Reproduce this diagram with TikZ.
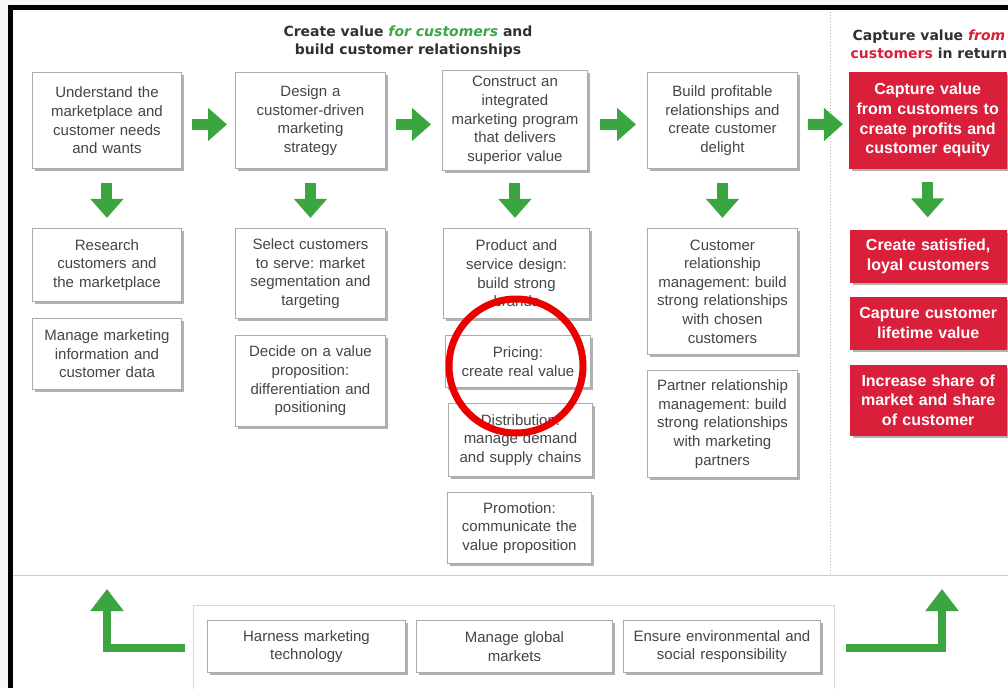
\documentclass[tikz,border=0pt]{standalone}
\usepackage{fontspec}
\setmainfont{Liberation Sans}
\newfontfamily\titlefont{DejaVu Sans}
\usetikzlibrary{arrows.meta,shadows}
\definecolor{tgreen}{HTML}{3DA547}
\definecolor{agreen}{HTML}{3BA640}
\definecolor{cred}{HTML}{DA1F3B}
\definecolor{txt}{HTML}{454545}
\definecolor{ttl}{HTML}{303030}
\definecolor{bord}{HTML}{ABABAB}
\frenchspacing
\begin{document}
\begin{tikzpicture}[x=1pt,y=-1pt,
  wbox/.style={draw=bord, line width=0.9pt, fill=white, align=center, inner sep=0pt,
    anchor=north west, text=txt, font=\fontsize{15}{18.6}\selectfont,
    drop shadow={shadow xshift=2.5pt, shadow yshift=-3pt, opacity=0.3, fill=black}},
  rbox/.style={fill=cred, draw=cred, align=center, inner sep=0pt, anchor=north west,
    text=white, font=\fontsize{16}{19.6}\selectfont\bfseries,
    drop shadow={shadow xshift=2.5pt, shadow yshift=-3pt, opacity=0.3, fill=black}},
  garrow/.style={draw=agreen, line width=11pt, -{Triangle[length=19pt, width=32pt]}},
  garrowl/.style={draw=agreen, line width=7.5pt, -{Triangle[length=22pt, width=32pt]}},
  ttlfont/.style={font=\titlefont\fontsize{14}{18}\selectfont\bfseries, text=ttl, align=center}
]
\useasboundingbox (0,0) rectangle (1008,688);
\clip (0,0) rectangle (1008,688);
\fill[white] (0,0) rectangle (1008,688);
\fill[gray!6] (0,0) rectangle (8,688);
\fill[gray!6] (0,0) rectangle (1008,5);
% frame
\draw[black, line width=5pt] (8,7.5) -- (1008,7.5);
\draw[black, line width=5pt] (10.5,5) -- (10.5,688);
% separators
\draw[gray!40, line width=1pt] (13,575) -- (1008,575);
\draw[gray!60, line width=1pt, dotted] (830,12) -- (830,575);

% titles
\node[ttlfont] (t1) at (408,42) {Create value \textcolor{tgreen}{\itshape for customers} and\\build customer relationships};
\node[ttlfont] (t2) at (929,44) {Capture value \textcolor{cred}{\itshape from}\\\textcolor{cred}{customers} in return};

% top row
\node[wbox, minimum width=149pt, minimum height=96pt, text width=141pt] (a1) at (32,72) {Understand the\\marketplace and\\customer needs\\and wants};
\node[wbox, minimum width=150pt, minimum height=96pt, text width=142pt] (a2) at (235,72) {Design a\\customer-driven\\marketing\\strategy};
\node[wbox, minimum width=145pt, minimum height=100pt, text width=140pt] (a3) at (442,70) {Construct an\\integrated\\marketing program\\that delivers\\superior value};
\node[wbox, minimum width=150pt, minimum height=96pt, text width=142pt] (a4) at (647,72) {Build profitable\\relationships and\\create customer\\delight};
\node[rbox, minimum width=157pt, minimum height=96pt, text width=154pt] (a5) at (849,72) {Capture value\\from customers to\\create profits and\\customer equity};

% second rows
\node[wbox, minimum width=149pt, minimum height=73pt, text width=141pt] (b1) at (32,228) {Research\\customers and\\the marketplace};
\node[wbox, minimum width=149pt, minimum height=71pt, text width=141pt] (c1) at (32,318) {Manage marketing\\information and\\customer data};
\node[wbox, minimum width=150pt, minimum height=90pt, text width=142pt] (b2) at (235,228) {Select customers\\to serve: market\\segmentation and\\targeting};
\node[wbox, minimum width=150pt, minimum height=91pt, text width=142pt] (c2) at (235,335) {Decide on a value\\proposition:\\differentiation and\\positioning};
\node[wbox, minimum width=146pt, minimum height=90pt, text width=140pt] (b3) at (443,228) {Product and\\service design:\\build strong\\brands};
\node[wbox, minimum width=145pt, minimum height=52pt, text width=140pt] (c3) at (445,335) {Pricing:\\create real value};
\node[wbox, minimum width=144pt, minimum height=73pt, text width=140pt] (d3) at (448,403) {Distribution:\\manage demand\\and supply chains};
\node[wbox, minimum width=144pt, minimum height=71pt, text width=140pt] (e3) at (447,492) {Promotion:\\communicate the\\value proposition};
\node[wbox, minimum width=150pt, minimum height=126pt, text width=144pt] (b4) at (647,228) {Customer\\relationship\\management: build\\strong relationships\\with chosen\\customers};
\node[wbox, minimum width=150pt, minimum height=107pt, text width=144pt] (c4) at (647,370) {Partner relationship\\management: build\\strong relationships\\with marketing\\partners};
\node[rbox, minimum width=156pt, minimum height=52pt, text width=152pt] (b5) at (850,230) {Create satisfied,\\loyal customers};
\node[rbox, minimum width=156pt, minimum height=52pt, text width=152pt] (c5) at (850,297) {Capture customer\\lifetime value};
\node[rbox, minimum width=156pt, minimum height=70pt, text width=152pt] (d5) at (850,365) {Increase share of\\market and share\\of customer};

% bottom
\node[draw=gray!30, line width=0.8pt, fill=white, anchor=north west, minimum width=641pt, minimum height=100pt, inner sep=0pt] (bt) at (193,605) {};
\node[wbox, minimum width=198pt, minimum height=52pt, text width=192pt] (h1) at (207,620) {Harness marketing\\technology};
\node[wbox, minimum width=196pt, minimum height=52pt, text width=190pt] (h2) at (416,620) {Manage global\\markets};
\node[wbox, minimum width=197pt, minimum height=52pt, text width=194pt] (h3) at (623,620) {Ensure environmental and\\social responsibility};

% right arrows
\draw[garrow] ([xshift=10pt,yshift=-4pt]a1.east) -- ([xshift=-8pt,yshift=-4pt]a2.west);
\draw[garrow] ([xshift=10pt,yshift=-4pt]a2.east) -- ([xshift=-11pt,yshift=-4pt]a3.west);
\draw[garrow] ([xshift=12pt,yshift=-4pt]a3.east) -- ([xshift=-11pt,yshift=-4pt]a4.west);
\draw[garrow] ([xshift=10pt,yshift=-4pt]a4.east) -- ([xshift=-6pt,yshift=-4pt]a5.west);
% down arrows
\draw[garrow] ([yshift=-14pt]a1.south) -- ([yshift=-49pt]a1.south);
\draw[garrow] ([yshift=-14pt]a2.south) -- ([yshift=-49pt]a2.south);
\draw[garrow] ([yshift=-12pt]a3.south) -- ([yshift=-47pt]a3.south);
\draw[garrow] ([yshift=-14pt]a4.south) -- ([yshift=-49pt]a4.south);
\draw[garrow] ([yshift=-14pt]a5.south) -- ([yshift=-49pt]a5.south);

% L arrows
\coordinate (ls) at (185,648);
\coordinate (le) at (107,589);
\coordinate (rs) at (846,648);
\coordinate (re) at (942,589);
\draw[garrowl] (ls) -| (le);
\draw[garrowl] (rs) -| (re);

% red circle
\node[draw={rgb,255:red,235;green,0;blue,0}, line width=7pt, circle, minimum size=134pt, inner sep=0pt] (circ) at (516,366) {};
\end{tikzpicture}
\end{document}
